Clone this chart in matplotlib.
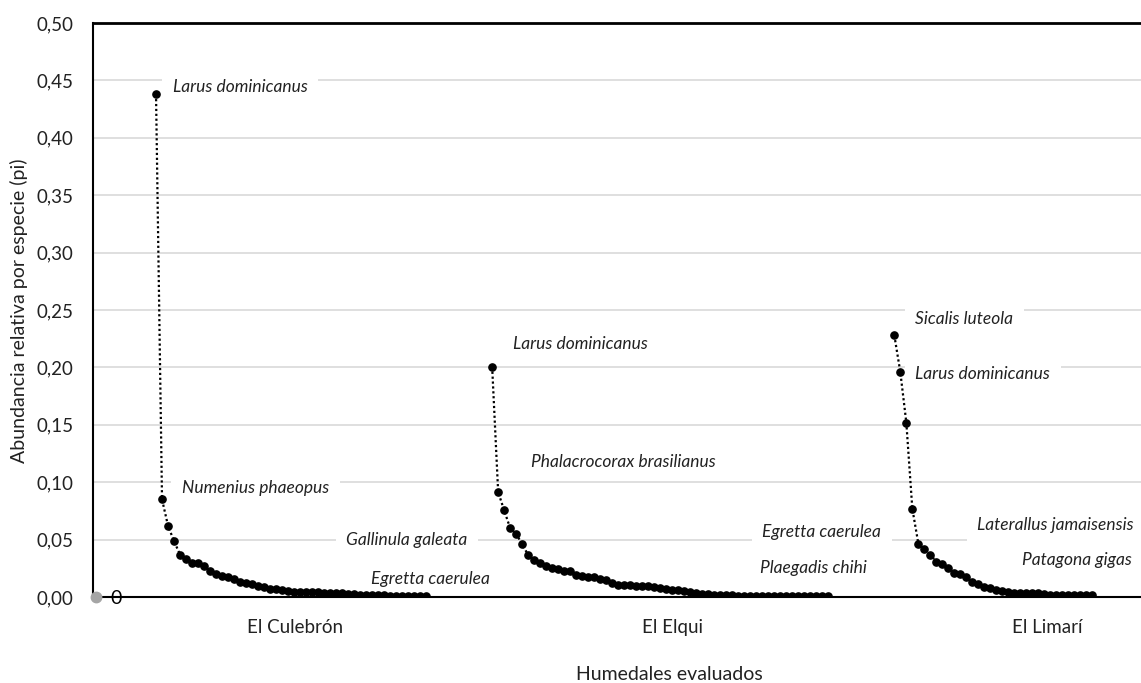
import matplotlib
matplotlib.use("Agg")
import matplotlib.pyplot as plt
import numpy as np

# ---------------- data ----------------
humedales = ["El Culebrón", "El Elqui", "El Limarí"]

culebron = [0.438, 0.085, 0.062, 0.0486, 0.037, 0.033, 0.0295, 0.0295, 0.027, 0.0226,
            0.020, 0.0185, 0.017, 0.0156, 0.013, 0.0125, 0.011, 0.0098, 0.0087, 0.0072,
            0.0069, 0.006, 0.005, 0.0046, 0.0043, 0.0043, 0.0041, 0.0041, 0.0039, 0.0037,
            0.0035, 0.0033, 0.0030, 0.0028, 0.0020, 0.0017, 0.0017, 0.0015, 0.0015, 0.0013,
            0.0013, 0.0011, 0.0011, 0.0009, 0.0009, 0.0009]

elqui = [0.2005, 0.0914, 0.0755, 0.060, 0.055, 0.046, 0.0365, 0.0318, 0.0298, 0.027,
         0.0255, 0.024, 0.023, 0.0225, 0.0194, 0.0185, 0.017, 0.017, 0.016, 0.0148,
         0.0119, 0.0107, 0.0104, 0.0104, 0.0098, 0.0098, 0.0095, 0.0084, 0.0075, 0.0069,
         0.0065, 0.006, 0.0052, 0.0046, 0.0032, 0.0023, 0.0022, 0.0020, 0.0020, 0.0018,
         0.0017, 0.0012, 0.0012, 0.0012, 0.0011, 0.0011, 0.0011, 0.0011, 0.0010, 0.0010,
         0.0010, 0.0010, 0.0010, 0.0009, 0.0009, 0.0009, 0.0009]

limari = [0.228, 0.196, 0.152, 0.077, 0.0466, 0.042, 0.037, 0.0307, 0.0286, 0.0249,
          0.0211, 0.020, 0.0176, 0.0128, 0.011, 0.009, 0.0075, 0.006, 0.0052, 0.0043,
          0.0037, 0.0037, 0.0032, 0.0032, 0.0032, 0.0030, 0.0021, 0.0019, 0.0018, 0.0017,
          0.0017, 0.0016, 0.0016, 0.0015]

# starting category index of each wetland on the x axis
start_idx = [10, 66, 133]

especies = ["Larus dominicanus", "Numenius phaeopus", "Gallinula galeata", "Egretta caerulea",
            "Larus dominicanus", "Phalacrocorax brasilianus", "Egretta caerulea", "Plaegadis chihi",
            "Sicalis luteola", "Larus dominicanus", "Laterallus jamaisensis", "Patagona gigas"]

yticks = [0.00, 0.05, 0.10, 0.15, 0.20, 0.25, 0.30, 0.35, 0.40, 0.45, 0.50]

# ---------------- layout ----------------
label_pos = [(12.8, 0.4444), (14.3, 0.0946), (41.7, 0.0495), (45.8, 0.0156),
             (69.5, 0.2205), (72.5, 0.118), (111.0, 0.0564), (110.7, 0.0252),
             (136.5, 0.2422), (136.5, 0.1944), (146.8, 0.0625), (154.3, 0.0321)]
label_z = [5, 5, 5, 2.5, 5, 5, 5, 2.5, 5, 5, 5, 2.5]
cat_label_x = [33.2, 96.0, 158.5]

plt.rcParams['font.family'] = ['Lato', 'DejaVu Sans']

fig = plt.figure(figsize=(11.41, 6.83), dpi=100)
ax = fig.add_axes([93 / 1141, 1 - 597 / 683, 1 - 93 / 1141 + 0.01, (597 - 23) / 683])

ax.set_xlim(-0.5, 176.0)
ax.set_ylim(0, 0.50)

for series, s0 in zip([culebron, elqui, limari], start_idx):
    xs = np.arange(s0, s0 + len(series))
    ax.plot(xs, series, color='black', linestyle=(0, (1, 1.2)), linewidth=1.6,
            marker='o', markersize=5.2, markerfacecolor='black', markeredgecolor='black',
            zorder=3)

# origin point
ax.plot([0], [0], 'o', color='#A5A5A5', markersize=7.5, zorder=7, clip_on=False)
ax.text(2.4, -0.001, "0", fontsize=14, va='center', ha='left', color='black', zorder=5)

for txt, (x, y), z in zip(especies, label_pos, label_z):
    ax.text(x, y, txt, fontsize=12.5, style='italic', va='center', ha='left', color='#222222',
            zorder=z, bbox=dict(boxstyle='square,pad=0.6', facecolor='white', edgecolor='none'))

for name, x in zip(humedales, cat_label_x):
    ax.text(x, -0.0265, name, fontsize=13.5, ha='center', va='center',
            transform=ax.transData, color='#222222')

ax.set_yticks(yticks)
ax.set_yticklabels([f"{v:.2f}".replace('.', ',') for v in yticks], fontsize=13.5, color='#222222')
ax.tick_params(axis='y', length=0, pad=14)
ax.set_xticks([])
ax.yaxis.grid(True, color='#D9D9D9', linewidth=1.2, zorder=0)
ax.set_axisbelow(True)

ax.spines['right'].set_visible(False)
for side in ['left', 'bottom', 'top']:
    ax.spines[side].set_color('black')
    ax.spines[side].set_linewidth(1.5)
    ax.spines[side].set_zorder(4)
ax.spines['top'].set_linewidth(2)

fig.text(19 / 1141, 1 - 311 / 683, "Abundancia relativa por especie (pi)", rotation=90,
         ha='center', va='center', fontsize=14, color='#222222')
fig.text(669 / 1141, 1 - 674 / 683, "Humedales evaluados", ha='center', va='center',
         fontsize=14, color='#222222')

fig.savefig("out.png", dpi=100)
